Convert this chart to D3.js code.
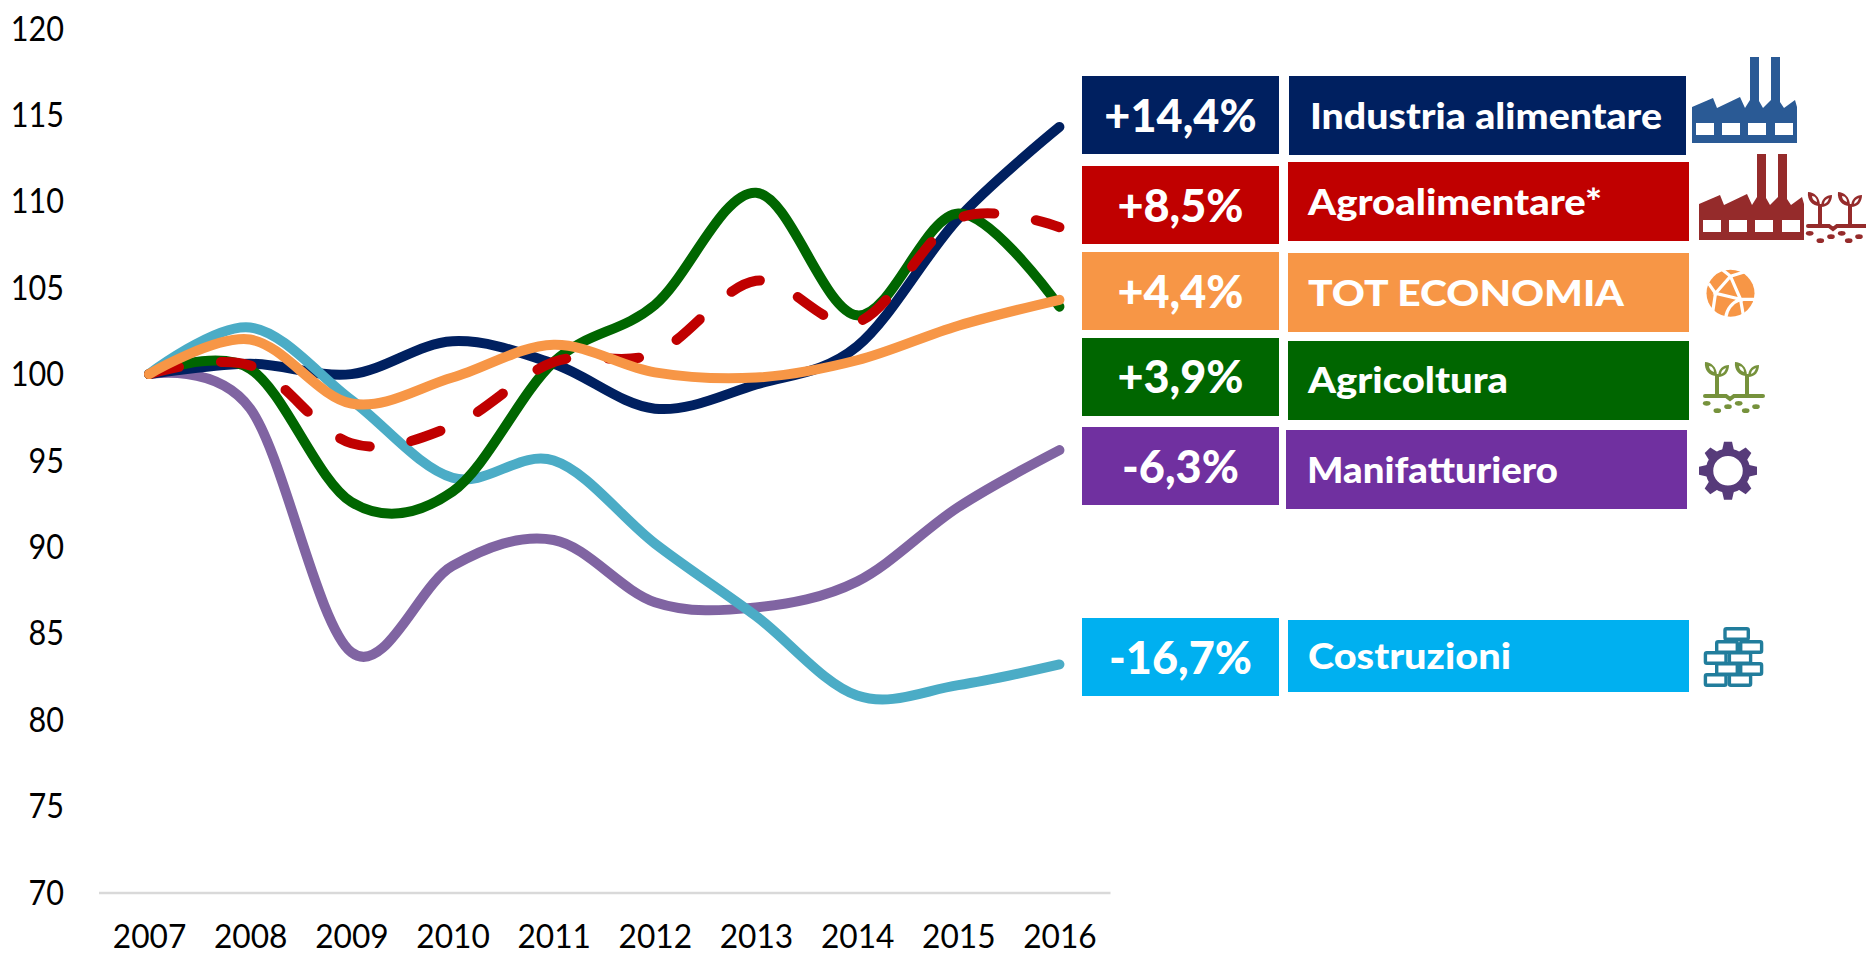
<!DOCTYPE html>
<html><head><meta charset="utf-8">
<style>html,body{margin:0;padding:0;background:#fff;overflow:hidden}svg{display:block}text{font-family:Lato,sans-serif}</style>
<script src="https://cdn.jsdelivr.net/npm/d3@7"></script></head><body>
<script>
const years=[2007,2008,2009,2010,2011,2012,2013,2014,2015,2016];
const yTicks=[70,75,80,85,90,95,100,105,110,115,120];
const manifatturiero=[100,98,83.9,88.9,90.4,86.8,86.5,88,92.3,95.6];
const industria=[100,100.6,100,101.9,100.6,98,99.4,101.6,109,114.3];
const costruzioni=[100,102.7,98.5,94,95,90.2,86,81.4,82,83.2];
const agricoltura=[100,100.3,92.6,93.2,100.7,104,110.5,103.4,109.3,103.9];
const agroalimentare=[100,100.5,96,97,100.7,101.2,105.4,103,109,108.5];
const totale=[100,102,98.3,99.8,101.7,100.1,99.8,100.8,102.8,104.3];
const valueLabels=["+14,4%","+8,5%","+4,4%","+3,9%","-6,3%","-16,7%"];
const nameLabels=["Industria alimentare","Agroalimentare*","TOT ECONOMIA","Agricoltura","Manifatturiero","Costruzioni"];

const W=1866,H=955;
const svg=d3.select("body").append("svg").attr("width",W).attr("height",H);
const x=d3.scalePoint().domain(years).range([98.5,1110]).padding(0.5);
const y=d3.scaleLinear().domain([70,120]).range([892.5,28.5]);
const line=d3.line().x((d,i)=>x(years[i])).y(d=>y(d)).curve(d3.curveCatmullRom.alpha(0));

const sx=0.9;
const ax=svg.append("g").attr("transform","translate(98.5,0)").call(d3.axisLeft(y).tickValues(yTicks).tickSize(0).tickFormat(d3.format("d")));
ax.select(".domain").remove();
ax.selectAll("text").attr("font-size",34).attr("fill","#000").attr("text-anchor","end").style("font-family","Lato")
  .attr("x",-34.5/sx).attr("dy","0.34em").attr("transform",`scale(${sx},1)`);
const bx=svg.append("g").attr("transform","translate(0,892.5)").call(d3.axisBottom(x).tickSize(0).tickFormat(d3.format("d")));
bx.select(".domain").attr("stroke","#d9d9d9").attr("stroke-width",2.5);
bx.selectAll("text").attr("font-size",33).attr("fill","#000").style("font-family","Lato")
  .attr("y",0).attr("dy",55.5).attr("transform","scale(0.96,1)");

const series=[
 {v:manifatturiero,c:"#8064a2"},{v:industria,c:"#002060"},{v:costruzioni,c:"#4bacc6"},
 {v:agricoltura,c:"#006600"},{v:agroalimentare,c:"#c00000",dash:"31 42"},{v:totale,c:"#f79646"}];
svg.append("g").selectAll("path").data(series).join("path")
 .attr("d",d=>line(d.v)).attr("fill","none").attr("stroke",d=>d.c).attr("stroke-width",10)
 .attr("stroke-linecap","round").attr("stroke-linejoin","round").attr("stroke-dasharray",d=>d.dash||null);

// layout of the panel on the right
const boxColors=["#002060","#c00000","#f79646","#006600","#7030a0","#00b0f0"];
const valBoxes=[[76,154],[166,244],[252,330],[338,416],[427,505],[618,696]];
const valBase=[132,222,308,393,483,674];
const nameBoxes=[[1289,1686,76,155],[1288,1689,162,241],[1288,1689,253,332],[1288,1689,341,420],[1286,1687,430,509],[1288,1689,620,692]];
const nameX=[[1310,1662,129],[1308,1602,215],[1308,1624,306],[1308,1508,393],[1307,1558,483],[1308,1511,669]];
const p=svg.append("g");
valueLabels.forEach((t,i)=>{
 p.append("rect").attr("x",1082).attr("width",197).attr("y",valBoxes[i][0]).attr("height",valBoxes[i][1]-valBoxes[i][0]).attr("fill",boxColors[i]);
 p.append("text").attr("x",1180.5).attr("y",valBase[i]).attr("text-anchor","middle").attr("font-size",45).attr("font-weight",900).attr("fill","#fff").text(t);
 const b=nameBoxes[i],n=nameX[i];
 p.append("rect").attr("x",b[0]).attr("width",b[1]-b[0]).attr("y",b[2]).attr("height",b[3]-b[2]).attr("fill",boxColors[i]);
 p.append("text").attr("x",n[0]).attr("y",n[2]).attr("font-size",36).attr("font-weight",900).attr("fill","#fff")
  .attr("textLength",n[1]-n[0]).attr("lengthAdjust","spacingAndGlyphs").text(nameLabels[i]);
});

// icons
function factory(dx,dy,col){
 const g=svg.append("g").attr("transform",`translate(${dx},${dy})`);
 g.append("path").attr("fill",col).attr("d","M1692 107L1713 98L1717 108L1740 97L1745 108L1750 100V57H1759V101L1763 108L1771 100V57H1780V102L1784 108L1795 100L1797 107V143H1692Z");
 [1696,1722,1748,1775].forEach(a=>g.append("rect").attr("x",a).attr("y",123).attr("width",18).attr("height",12).attr("fill","#fff"));
}
function plants(dx,dy,col){
 const g=svg.append("g").attr("transform",`translate(${dx},${dy})`);
 g.append("path").attr("fill","none").attr("stroke",col).attr("stroke-width",4).attr("stroke-linecap","round").attr("d","M1 34H22L26 37L30 34H59");
 [13,43].forEach(a=>{
  g.append("path").attr("fill","none").attr("stroke",col).attr("stroke-width",4).attr("d",`M${a} 35V12`);
  g.append("path").attr("fill",col).attr("d",`M${a} 14C${a-8} 14 ${a-13} 8 ${a-12} 0C${a-6} 0 ${a} 5 ${a} 14Z`);
  g.append("path").attr("fill",col).attr("d",`M${a+1} 15C${a+8} 15 ${a+12} 10 ${a+12} 3C${a+6} 3 ${a+1} 7 ${a+1} 15Z`);
  g.append("path").attr("fill","#fff").attr("d",`M${a-3} 10C${a-6} 9 ${a-8} 7 ${a-8} 4C${a-5} 4 ${a-3} 7 ${a-3} 10Z`);
  g.append("path").attr("fill","#fff").attr("d",`M${a+4} 12C${a+7} 11 ${a+8} 9 ${a+9} 6C${a+6} 7 ${a+4} 9 ${a+4} 12Z`);
 });
 [[2.7,41.3],[24,44.7],[34.7,41.3],[13.3,48.7],[52,44.7],[41.7,48.7]].forEach(c=>g.append("ellipse").attr("cx",c[0]).attr("cy",c[1]).attr("rx",3.8).attr("ry",2.4).attr("fill",col));
}
factory(0,0,"#2a5a95");
factory(7,97,"#952b2b");
plants(1807,192,"#952b2b");
plants(1704,362,"#76923c");
// globe
const gl=svg.append("g").attr("transform","translate(1730.5,293.3)");
gl.append("ellipse").attr("rx",24).attr("ry",23.5).attr("fill","#f79646");
gl.append("path").attr("fill","none").attr("stroke","#fff").attr("stroke-width",3.2)
 .attr("d","M-10 -25L0 -17L16 -22M0 -17L-15 0L10 6L0 -17M-22 -10L-15 0L-18 20M10 6L26 6M10 6Q-3 11 -5 25M10 6L13 23");
// gear
const gear=svg.append("g").attr("transform","translate(1728,470.8)");
d3.range(8).forEach(i=>gear.append("path").attr("d","M-6.5 -18L-4 -29H4L6.5 -18Z").attr("fill","#573b7a").attr("transform",`rotate(${i*45})`));
gear.append("circle").attr("r",18.5).attr("fill","#fff").attr("stroke","#573b7a").attr("stroke-width",7.5);
// bricks
const brickRows=[[627,[[1723.3,1750]]],[640,[[1715,1739],[1739,1763.3]]],[651,[[1703.7,1727.7],[1727.7,1752.3]]],[662,[[1715,1739],[1739,1763.3]]],[673,[[1703.7,1727.7],[1727.7,1752.3]]]];
const br=svg.append("g").attr("fill","#fff").attr("stroke","#217d9c").attr("stroke-width",3.4);
brickRows.forEach(([t,cells])=>cells.forEach(c=>br.append("rect").attr("x",c[0]+1.7).attr("y",t+1.7).attr("width",c[1]-c[0]-3.4).attr("height",10.6).attr("rx",1.5)));
</script></body></html>
